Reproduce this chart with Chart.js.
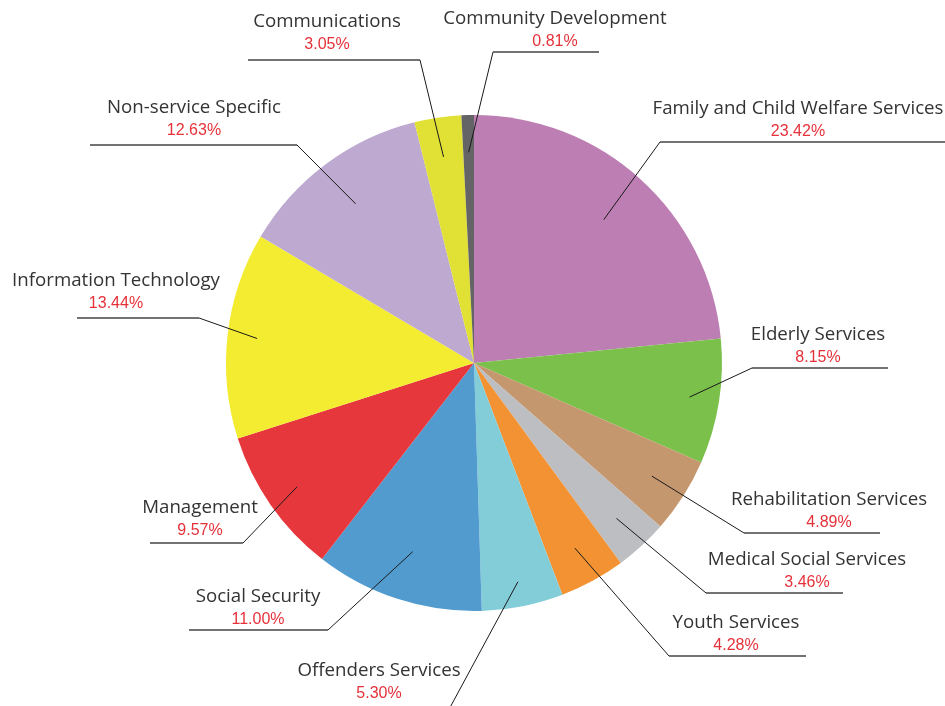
<!DOCTYPE html>
<html>
<head>
<meta charset="utf-8">
<script src="https://cdn.jsdelivr.net/npm/chart.js@4"></script>
<style>
  html, body { margin: 0; padding: 0; background: #fff; }
  #wrap { width: 945px; height: 706px; position: relative; }
</style>
</head>
<body>
<div id="wrap"><canvas id="pieChart"></canvas></div>
<script>
// data
var categories = ['Family and Child Welfare Services', 'Elderly Services', 'Rehabilitation Services',
  'Medical Social Services', 'Youth Services', 'Offenders Services', 'Social Security',
  'Management', 'Information Technology', 'Non-service Specific', 'Communications',
  'Community Development'];
var shares = [23.42, 8.15, 4.89, 3.46, 4.28, 5.30, 11.00, 9.57, 13.44, 12.63, 3.05, 0.81];
var sliceColors = ['#BD7EB3', '#7BC04B', '#C5976F', '#BCBEC1', '#F29232', '#83CDD9',
  '#529BCF', '#E6373D', '#F3EC30', '#BEA9D1', '#E1E034', '#646466'];

// where each callout sits: elbow point, end of the underline, text centre, inner radius fraction
var callouts = [
  { elbow: [660, 142], end: 945, tx: 798, f: 0.78 },
  { elbow: [752, 368], end: 888, tx: 818, f: 0.88 },
  { elbow: [744, 533], end: 880, tx: 829, f: 0.85 },
  { elbow: [706, 593], end: 843, tx: 807, f: 0.85 },
  { elbow: [669, 656], end: 806, tx: 736, f: 0.85 },
  { elbow: [440, 726], end: 300, tx: 379, f: 0.9, ty: 671 },
  { elbow: [328, 630], end: 189, tx: 258, f: 0.8 },
  { elbow: [243, 543], end: 150, tx: 200, f: 0.87, ty: 508 },
  { elbow: [199, 318], end: 77,  tx: 116, f: 0.88, ty: 281 },
  { elbow: [297, 145], end: 90,  tx: 194, f: 0.8, ty: 108 },
  { elbow: [420, 60],  end: 248, tx: 327, f: 0.84, ty: 22 },
  { elbow: [493, 52],  end: 599, tx: 555, f: 0.85 }
];

var calloutPlugin = {
  id: 'callouts',
  afterDatasetsDraw: function(chart) {
    var ctx = chart.ctx;
    var arcs = chart.getDatasetMeta(0).data;
    ctx.save();
    arcs.forEach(function(arc, i) {
      var c = callouts[i];
      var p = arc.getProps(['x', 'y', 'startAngle', 'endAngle', 'outerRadius'], true);
      var mid = (p.startAngle + p.endAngle) / 2;
      var ix = p.x + Math.cos(mid) * p.outerRadius * c.f;
      var iy = p.y + Math.sin(mid) * p.outerRadius * c.f;
      // slanted leader
      ctx.strokeStyle = '#1a1a1a';
      ctx.lineWidth = 1;
      ctx.beginPath();
      ctx.moveTo(ix, iy);
      ctx.lineTo(c.elbow[0], c.elbow[1]);
      ctx.stroke();
      // underline
      ctx.strokeStyle = '#444';
      ctx.lineWidth = 1.3;
      ctx.beginPath();
      ctx.moveTo(c.elbow[0], c.elbow[1]);
      ctx.lineTo(c.end, c.elbow[1]);
      ctx.stroke();
      // texts
      var ty = c.ty !== undefined ? c.ty : c.elbow[1] - 33;
      ctx.textAlign = 'center';
      ctx.textBaseline = 'middle';
      ctx.fillStyle = '#333333';
      ctx.font = '18.7px "Open Sans"';
      ctx.fillText(categories[i], c.tx, ty);
      ctx.fillStyle = '#E5323A';
      ctx.font = '16px "Liberation Sans", Arial';
      ctx.fillText(shares[i].toFixed(2) + '%', c.tx, ty + 23);
    });
    ctx.restore();
  }
};

new Chart(document.getElementById('pieChart').getContext('2d'), {
  type: 'pie',
  data: {
    labels: categories,
    datasets: [{
      data: shares,
      backgroundColor: sliceColors,
      borderWidth: 0
    }]
  },
  options: {
    responsive: true,
    maintainAspectRatio: false,
    animation: false,
    layout: { padding: { left: 226, right: 223, top: 115, bottom: 95 } },
    plugins: {
      legend: { display: false },
      tooltip: { enabled: false }
    }
  },
  plugins: [calloutPlugin]
});
</script>
</body>
</html>
